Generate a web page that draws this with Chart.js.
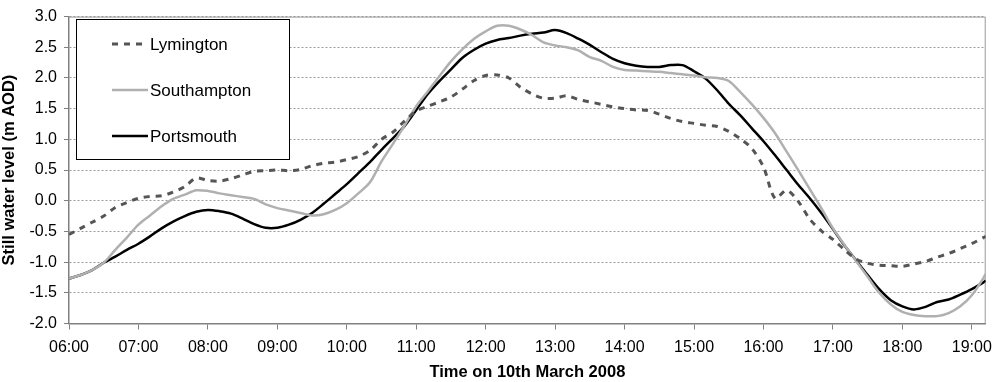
<!DOCTYPE html>
<html>
<head>
<meta charset="utf-8">
<script src="https://cdn.jsdelivr.net/npm/chart.js@4/dist/chart.umd.min.js"></script>
<style>
  html, body { margin: 0; padding: 0; background: #fff; }
  #wrap { width: 1000px; height: 382px; position: relative; }
</style>
</head>
<body>
<div id="wrap"><canvas id="levelChart" width="1000" height="382"></canvas></div>
<script>
// sampling times, every 10 minutes, last point at the right edge of the axis
const times = [
  '06:00','06:10','06:20','06:30','06:40','06:50',
  '07:00','07:10','07:20','07:30','07:40','07:50',
  '08:00','08:10','08:20','08:30','08:40','08:50',
  '09:00','09:10','09:20','09:30','09:40','09:50',
  '10:00','10:10','10:20','10:30','10:40','10:50',
  '11:00','11:10','11:20','11:30','11:40','11:50',
  '12:00','12:10','12:20','12:30','12:40','12:50',
  '13:00','13:10','13:20','13:30','13:40','13:50',
  '14:00','14:10','14:20','14:30','14:40','14:50',
  '15:00','15:10','15:20','15:30','15:40','15:50',
  '16:00','16:10','16:20','16:30','16:40','16:50',
  '17:00','17:10','17:20','17:30','17:40','17:50',
  '18:00','18:10','18:20','18:30','18:40','18:50',
  '19:00','19:10','19:12'
];

const lymington = [
  -0.55, -0.45, -0.35, -0.25, -0.11, -0.03,
  0.04, 0.07, 0.08, 0.14, 0.23, 0.37,
  0.33, 0.32, 0.36, 0.42, 0.48, 0.49,
  0.50, 0.49, 0.51, 0.57, 0.61, 0.63,
  0.67, 0.72, 0.82, 1.00, 1.12, 1.30,
  1.46, 1.54, 1.61, 1.69, 1.82, 1.96,
  2.04, 2.05, 2.00, 1.85, 1.74, 1.67,
  1.67, 1.71, 1.65, 1.61, 1.57, 1.53,
  1.50, 1.48, 1.47, 1.41, 1.34, 1.29,
  1.26, 1.23, 1.21, 1.13, 1.01, 0.85,
  0.55, 0.04, 0.17, -0.01, -0.30, -0.49,
  -0.63, -0.80, -0.95, -1.02, -1.05, -1.06,
  -1.07, -1.03, -0.99, -0.92, -0.86, -0.78,
  -0.70, -0.60, -0.58
];

const southampton = [
  -1.27, -1.21, -1.13, -1.01, -0.80, -0.60,
  -0.39, -0.24, -0.09, 0.03, 0.10, 0.17,
  0.16, 0.12, 0.09, 0.06, 0.03, -0.06,
  -0.12, -0.16, -0.20, -0.24, -0.22, -0.15,
  -0.04, 0.12, 0.30, 0.64, 0.93, 1.23,
  1.54, 1.78, 2.03, 2.27, 2.47, 2.64,
  2.76, 2.85, 2.85, 2.79, 2.70, 2.58,
  2.53, 2.50, 2.45, 2.34, 2.28, 2.18,
  2.13, 2.12, 2.11, 2.10, 2.08, 2.06,
  2.04, 2.01, 2.00, 1.95, 1.77, 1.57,
  1.35, 1.10, 0.80, 0.50, 0.19, -0.12,
  -0.45, -0.72, -0.98, -1.24, -1.50, -1.69,
  -1.81, -1.86, -1.88, -1.88, -1.83, -1.72,
  -1.54, -1.26, -1.19
];

const portsmouth = [
  -1.27, -1.21, -1.13, -1.01, -0.91, -0.80,
  -0.70, -0.58, -0.45, -0.34, -0.25, -0.18,
  -0.15, -0.17, -0.21, -0.29, -0.38, -0.44,
  -0.44, -0.39, -0.31, -0.20, -0.05, 0.11,
  0.27, 0.45, 0.63, 0.83, 1.02, 1.22,
  1.48, 1.74, 1.95, 2.14, 2.33, 2.46,
  2.56, 2.62, 2.65, 2.69, 2.72, 2.74,
  2.78, 2.73, 2.64, 2.54, 2.42, 2.31,
  2.24, 2.20, 2.18, 2.18, 2.21, 2.21,
  2.11, 1.99, 1.80, 1.58, 1.39, 1.18,
  0.97, 0.74, 0.50, 0.26, 0.04, -0.20,
  -0.46, -0.73, -0.97, -1.21, -1.44, -1.62,
  -1.72, -1.77, -1.73, -1.65, -1.61, -1.53,
  -1.44, -1.33, -1.30
];

const hourTicks = ['06:00','07:00','08:00','09:00','10:00','11:00','12:00',
  '13:00','14:00','15:00','16:00','17:00','18:00','19:00'];
const yTicks = [3.0, 2.5, 2.0, 1.5, 1.0, 0.5, 0.0, -0.5, -1.0, -1.5, -2.0];

function toHours(t) {
  const [h, m] = t.split(':').map(Number);
  return h + m / 60;
}

function pointsOf(values) {
  return values.map((v, i) => ({ x: toHours(times[i]), y: v }));
}

const font = 'Arial, "Liberation Sans", sans-serif';

// frame (top + right) and the boxed legend inside the plot
const framePlugin = {
  id: 'frame',
  beforeDatasetsDraw(chart) {
    const { ctx, chartArea: a } = chart;
    ctx.save();
    ctx.strokeStyle = '#9a9a9a';
    ctx.lineWidth = 1;
    ctx.beginPath();
    ctx.moveTo(a.left, a.top + 0.5);
    ctx.lineTo(a.right - 0.5, a.top + 0.5);
    ctx.lineTo(a.right - 0.5, a.bottom);
    ctx.stroke();
    ctx.restore();
  },
  afterDraw(chart) {
    const ctx = chart.ctx;
    const box = { x: 76, y: 19, w: 213, h: 140 };
    ctx.save();
    ctx.fillStyle = '#fff';
    ctx.fillRect(box.x, box.y, box.w, box.h);
    ctx.strokeStyle = '#000';
    ctx.lineWidth = 1;
    ctx.strokeRect(box.x + 0.5, box.y + 0.5, box.w, box.h);
    ctx.font = '17px ' + font;
    ctx.textBaseline = 'middle';
    ctx.fillStyle = '#000';
    chart.data.datasets.forEach((ds, i) => {
      const y = 44 + i * 46;
      ctx.strokeStyle = ds.borderColor;
      ctx.lineWidth = ds.borderWidth;
      ctx.setLineDash(ds.borderDash || []);
      ctx.beginPath();
      ctx.moveTo(112, y);
      ctx.lineTo(148, y);
      ctx.stroke();
      ctx.setLineDash([]);
      ctx.fillText(ds.label, 150, y + 1);
    });
    ctx.restore();
  }
};

new Chart(document.getElementById('levelChart'), {
  type: 'line',
  data: {
    datasets: [
      {
        label: 'Lymington',
        data: pointsOf(lymington),
        borderColor: '#555555',
        borderWidth: 3,
        borderDash: [6, 6],
        pointRadius: 0,
        tension: 0.3
      },
      {
        label: 'Southampton',
        data: pointsOf(southampton),
        borderColor: '#b0b0b0',
        borderWidth: 2.5,
        pointRadius: 0,
        tension: 0.3
      },
      {
        label: 'Portsmouth',
        data: pointsOf(portsmouth),
        borderColor: '#000000',
        borderWidth: 2.5,
        pointRadius: 0,
        tension: 0.3
      }
    ]
  },
  options: {
    responsive: false,
    animation: false,
    layout: { padding: { top: 12, right: 10, left: 0, bottom: 0 } },
    plugins: {
      legend: { display: false },
      tooltip: { enabled: false }
    },
    scales: {
      x: {
        type: 'linear',
        min: 6,
        max: 19.2,
        afterBuildTicks: axis => {
          axis.ticks = hourTicks.map(t => ({ value: toHours(t), label: t }));
        },
        afterFit: scale => { scale.height = 58.5; },
        ticks: {
          color: '#000',
          padding: 8,
          maxRotation: 0,
          autoSkip: false,
          font: { family: font, size: 16 },
          callback: (v, i) => hourTicks[i]
        },
        grid: {
          drawOnChartArea: false,
          drawTicks: true,
          tickLength: 6,
          tickColor: '#808080'
        },
        border: { color: '#808080', width: 1.5 },
        title: {
          display: true,
          text: 'Time on 10th March 2008',
          color: '#000',
          padding: { top: 0, bottom: 0 },
          font: { family: font, size: 16.5, weight: 'bold' }
        }
      },
      y: {
        min: -2,
        max: 3,
        afterBuildTicks: axis => {
          axis.ticks = yTicks.map(v => ({ value: v }));
        },
        afterFit: scale => { scale.width = 69; },
        ticks: {
          color: '#000',
          padding: 7,
          font: { family: font, size: 16 },
          callback: v => v.toFixed(1)
        },
        grid: {
          color: '#9a9a9a',
          lineWidth: 1,
          drawTicks: true,
          tickLength: 5,
          tickColor: '#808080'
        },
        border: { color: '#808080', width: 1.5, dash: [2, 2] },
        title: {
          display: true,
          text: 'Still water level (m AOD)',
          color: '#000',
          padding: { top: 0, bottom: 0 },
          font: { family: font, size: 16.5, weight: 'bold' }
        }
      }
    }
  },
  plugins: [framePlugin]
});
</script>
</body>
</html>
